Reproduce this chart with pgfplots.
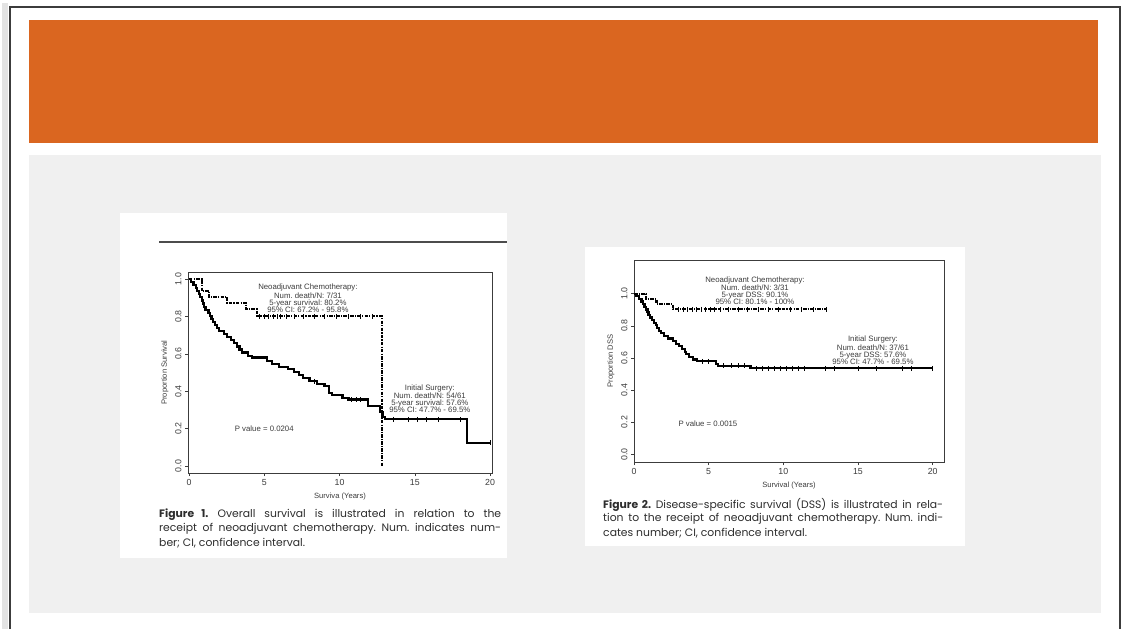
\documentclass[border=0pt]{standalone}
\usepackage{pgfplots}
\pgfplotsset{compat=1.18}
\usepackage{fontspec}
\setmainfont{Liberation Sans}
\newfontfamily\capfont{Poppins}
\definecolor{orng}{RGB}{218,102,32}
\definecolor{panel}{RGB}{240,240,240}
\definecolor{ink}{RGB}{60,60,60}
\definecolor{capink}{RGB}{45,45,45}
\pgfplotsset{
  km/.style={
    scale only axis,
    axis line style={ink,line width=0.6pt},
    tick align=outside, xtick pos=bottom, ytick pos=left,
    major tick length=3pt, tick style={ink,line width=0.5pt},
    xtick={0,5,10,15,20}, xticklabels={0,5,10,15,20},
    ytick={0,0.2,0.4,0.6,0.8,1.0}, yticklabels={0.0,0.2,0.4,0.6,0.8,1.0},
    yticklabel style={rotate=90, anchor=south},
    tick label style={font=\fontsize{8.8}{9}\selectfont, text=ink},
    label style={font=\fontsize{7.6}{8}\selectfont, text=ink},
    clip=false,
  },
  surv/.style={const plot, black, line width=2.2pt, no markers},
  neo/.style={const plot, black, line width=2.2pt, no markers, dash pattern=on 3.5pt off 1.2pt on 1.2pt off 1.2pt},
  cens/.style={only marks, black, mark=|, mark size=2.4pt, mark options={line width=0.8pt, solid}},
}
\tikzset{ann/.style={font=\fontsize{7.8}{7.2}\selectfont, text=ink, align=center}}
\begin{document}
\frenchspacing
\begin{tikzpicture}
% slide background
\fill[white] (0pt,0pt) rectangle (1127pt,-629pt);
\fill[gray!22] (2pt,-3pt) rectangle (8pt,-629pt);
\draw[line width=1.2pt, ink] (10pt,-629pt) -- (10pt,-7pt) -- (1120pt,-7pt) -- (1120pt,-629pt);
\fill[orng] (29pt,-20pt) rectangle (1098pt,-143pt);
\fill[panel] (29pt,-155pt) rectangle (1101pt,-613pt);
\fill[white] (120pt,-213pt) rectangle (507pt,-558pt);
\fill[white] (585pt,-247pt) rectangle (965pt,-546pt);
\draw[line width=1.5pt, gray!60!black] (159pt,-242pt) -- (507pt,-242pt);

% ---------- Figure 1 ----------
\begin{axis}[km, at={(188pt,-473pt)}, anchor=south west,
  width=304pt, height=201pt,
  xmin=-0.066, xmax=20.13, ymin=-0.037, ymax=1.037,
  xlabel={Surviva (Years)}, ylabel={Proportion Survival}]
\addplot[surv] coordinates {
 (0,1) (0.15,0.984) (0.3,0.967) (0.45,0.951) (0.55,0.934) (0.65,0.918)
 (0.75,0.902) (0.85,0.885) (0.92,0.869) (1.0,0.852) (1.1,0.836) (1.3,0.820)
 (1.4,0.803) (1.5,0.787) (1.6,0.770) (1.75,0.754) (1.85,0.738) (2.0,0.721)
 (2.3,0.705) (2.5,0.689) (2.8,0.672) (3.0,0.656) (3.2,0.639) (3.35,0.623)
 (3.5,0.607) (3.9,0.590) (4.2,0.580) (5.2,0.563) (5.5,0.546) (6.0,0.530)
 (6.6,0.519) (7.0,0.502) (7.3,0.486) (7.6,0.469) (8.0,0.453) (8.5,0.440)
 (9.0,0.428) (9.3,0.390) (9.5,0.378) (10.2,0.362) (10.6,0.356) (11.9,0.321)
 (12.7,0.290) (12.85,0.262) (13.0,0.250) (18.45,0.125) (20,0.125)};
\addplot[cens] coordinates {
 (8.3,0.453) (10.8,0.356) (11.1,0.356) (11.4,0.356) (13.6,0.25) (14.6,0.25)
 (15.2,0.25) (15.8,0.25) (16.6,0.25) (18.0,0.25) (20,0.125)};
\addplot[neo] coordinates {
 (0,1) (0.84,0.935) (1.35,0.903) (2.55,0.871) (3.8,0.839) (4.5,0.80) (12.8,0.0)};
\addplot[cens] coordinates {
 (4.7,0.8) (5.0,0.8) (5.3,0.8) (5.6,0.8) (5.9,0.8) (6.1,0.8) (6.5,0.8)
 (7.0,0.8) (7.6,0.8) (8.3,0.8) (9.0,0.8) (9.8,0.8) (10.6,0.8) (11.4,0.8) (12.2,0.8)};
\node[ann, anchor=north] at (axis cs:7.9,0.99) {Neoadjuvant Chemotherapy:\\Num. death/N: 7/31\\5-year survival: 80.2\%\\95\% CI: 67.2\% - 95.8\%};
\node[ann, anchor=north] at (axis cs:16.0,0.455) {Initial Surgery:\\Num. death/N: 54/61\\5-year survival: 57.6\%\\95\% CI: 47.7\% - 69.5\%};
\node[ann] at (axis cs:5.0,0.2) {P value = 0.0204};
\end{axis}

% ---------- Figure 2 ----------
\begin{axis}[km, at={(634pt,-462pt)}, anchor=south west,
  width=310pt, height=202pt,
  xmin=0, xmax=20.76, ymin=-0.048, ymax=1.21,
  xlabel={Survival (Years)}, ylabel={Proportion DSS}]
\addplot[surv] coordinates {
 (0,1) (0.15,0.984) (0.35,0.967) (0.5,0.951) (0.6,0.934) (0.7,0.918)
 (0.8,0.902) (0.9,0.885) (0.97,0.869) (1.05,0.852) (1.2,0.836) (1.35,0.820)
 (1.45,0.803) (1.55,0.787) (1.65,0.770) (1.8,0.754) (2.0,0.738) (2.3,0.721)
 (2.6,0.705) (2.8,0.689) (3.0,0.672) (3.2,0.656) (3.4,0.639) (3.5,0.623)
 (3.7,0.607) (3.95,0.590) (4.2,0.580) (5.5,0.563) (5.6,0.552) (7.8,0.536) (20,0.536)};
\addplot[cens] coordinates {
 (4.6,0.58) (5.0,0.58) (6.0,0.552) (6.5,0.552) (7.0,0.552) (7.4,0.552)
 (8.2,0.536) (8.6,0.536) (9.0,0.536) (9.4,0.536) (9.8,0.536) (10.2,0.536)
 (10.6,0.536) (11.0,0.536) (11.4,0.536) (12.8,0.536) (13.4,0.536) (15.0,0.536)
 (16.2,0.536) (18.0,0.536) (18.6,0.536) (20,0.536)};
\addplot[neo] coordinates {
 (0,1) (0.8,0.968) (1.5,0.935) (2.6,0.903) (12.9,0.903)};
\addplot[cens] coordinates {
 (3.0,0.903) (3.3,0.903) (3.6,0.903) (3.9,0.903) (4.2,0.903) (4.5,0.903)
 (4.8,0.903) (5.1,0.903) (5.4,0.903) (5.8,0.903) (6.3,0.903) (7.0,0.903)
 (7.6,0.903) (8.3,0.903) (9.0,0.903) (9.7,0.903) (10.5,0.903) (11.2,0.903)
 (12.0,0.903) (12.9,0.903)};
\node[ann, anchor=north] at (axis cs:8.1,1.13) {Neoadjuvant Chemotherapy:\\Num. death/N: 3/31\\5-year DSS: 90.1\%\\95\% CI: 80.1\% - 100\%};
\node[ann, anchor=north] at (axis cs:16.0,0.757) {Initial Surgery:\\Num. death/N: 37/61\\5-year DSS: 57.6\%\\95\% CI: 47.7\% - 69.5\%};
\node[ann] at (axis cs:4.95,0.19) {P value = 0.0015};
\end{axis}

% ---------- captions ----------
\begin{scope}[every node/.style={anchor=west, inner sep=0pt, text=capink, font=\capfont\fontsize{10.8}{12}\selectfont}]
\node at (159pt,-515pt) {\makebox[342pt][s]{\textbf{Figure 1.} Overall survival is illustrated in relation to the}};
\node at (159pt,-529pt) {\makebox[342pt][s]{receipt of neoadjuvant chemotherapy. Num. indicates num-}};
\node at (159pt,-543pt) {ber; CI, confidence interval.};
\node at (603pt,-505pt) {\makebox[340pt][s]{\textbf{Figure 2.} Disease-specific survival (DSS) is illustrated in rela-}};
\node at (603pt,-519pt) {\makebox[340pt][s]{tion to the receipt of neoadjuvant chemotherapy. Num. indi-}};
\node at (603pt,-533pt) {cates number; CI, confidence interval.};
\end{scope}
\end{tikzpicture}
\end{document}
